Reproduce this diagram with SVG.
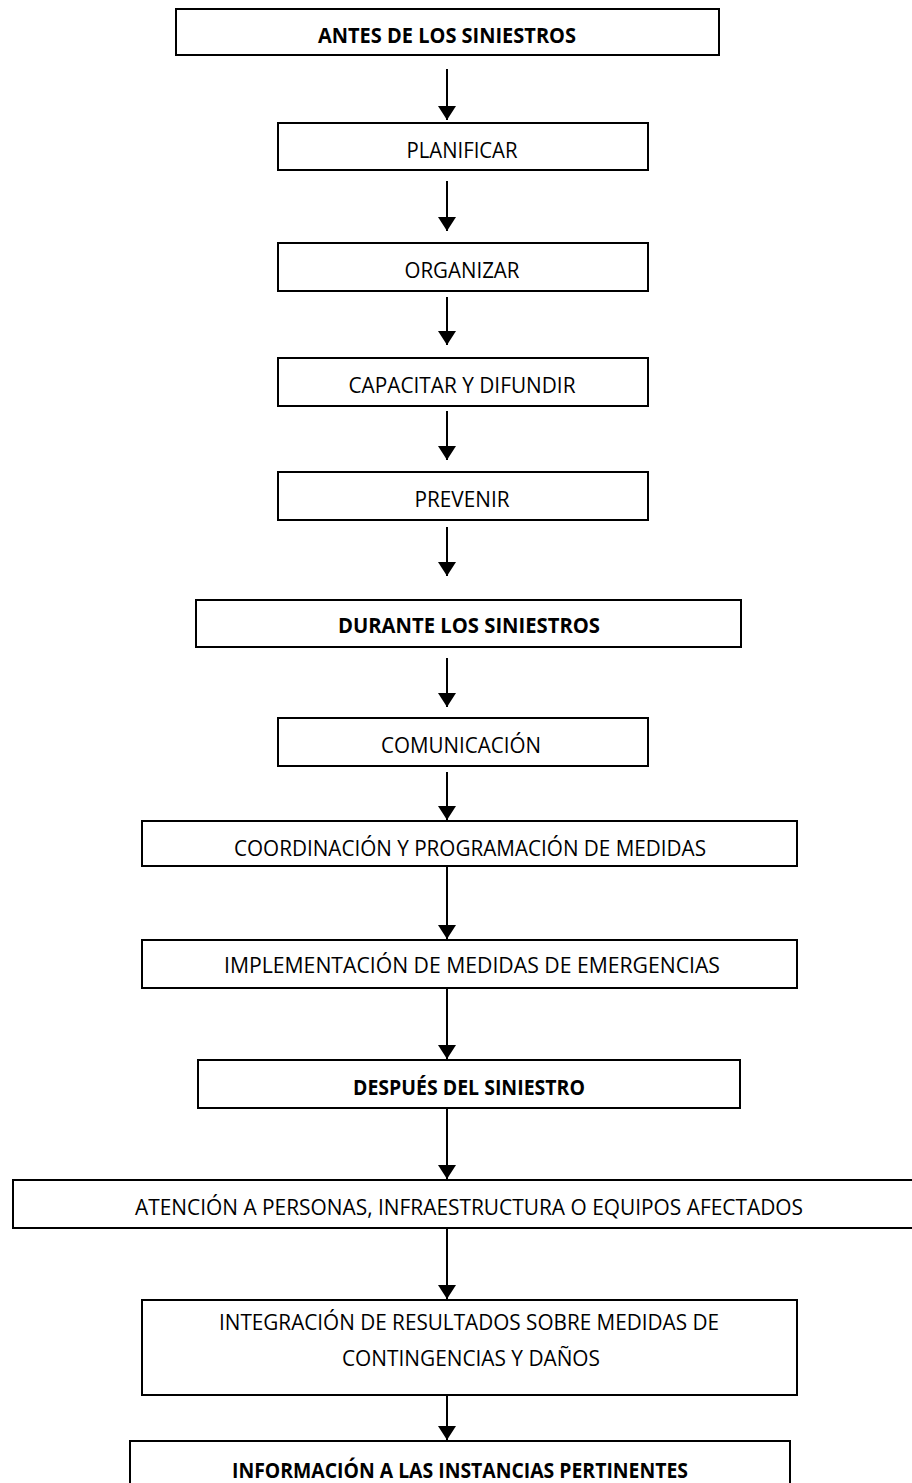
<svg xmlns="http://www.w3.org/2000/svg" width="912" height="1483" viewBox="0 0 912 1483">
  <style>
    .box { fill: #ffffff; stroke: #000000; stroke-width: 2; }
    .lbl { font-family: "Open Sans", "Liberation Sans", sans-serif; font-size: 22px; fill: #000000; text-anchor: middle; }
    .hd { font-weight: bold; }
    .conn { stroke: #000000; stroke-width: 2; fill: none; marker-end: url(#arrow); }
  </style>
  <defs>
    <marker id="arrow" viewBox="0 0 14 18" refX="14" refY="9" markerWidth="14" markerHeight="18" markerUnits="userSpaceOnUse" orient="auto">
      <path d="M0,0 L14,9 L0,18 Z" fill="#000000"/>
    </marker>
  </defs>
  <rect x="0" y="0" width="912" height="1483" fill="#ffffff"/>

  <!-- connectors -->
  <g id="connectors">
    <line class="conn" x1="447" y1="69" x2="447" y2="120"/>
    <line class="conn" x1="447" y1="181" x2="447" y2="231"/>
    <line class="conn" x1="447" y1="297" x2="447" y2="345"/>
    <line class="conn" x1="447" y1="411" x2="447" y2="460"/>
    <line class="conn" x1="447" y1="527" x2="447" y2="576"/>
    <line class="conn" x1="447" y1="658" x2="447" y2="707"/>
    <line class="conn" x1="447" y1="772" x2="447" y2="820"/>
    <line class="conn" x1="447" y1="867" x2="447" y2="939"/>
    <line class="conn" x1="447" y1="989" x2="447" y2="1059"/>
    <line class="conn" x1="447" y1="1109" x2="447" y2="1179"/>
    <line class="conn" x1="447" y1="1229" x2="447" y2="1299"/>
    <line class="conn" x1="447" y1="1396" x2="447" y2="1440"/>
  </g>

  <!-- before -->
  <g id="antes">
    <rect class="box" x="176" y="9" width="543" height="46"/>
    <text class="lbl hd" x="447" y="43" textLength="258" lengthAdjust="spacingAndGlyphs">ANTES DE LOS SINIESTROS</text>
  </g>
  <g id="planificar">
    <rect class="box" x="278" y="123" width="370" height="47"/>
    <text class="lbl" x="462" y="158" textLength="111" lengthAdjust="spacingAndGlyphs">PLANIFICAR</text>
  </g>
  <g id="organizar">
    <rect class="box" x="278" y="243" width="370" height="48"/>
    <text class="lbl" x="462" y="278" textLength="115" lengthAdjust="spacingAndGlyphs">ORGANIZAR</text>
  </g>
  <g id="capacitar">
    <rect class="box" x="278" y="358" width="370" height="48"/>
    <text class="lbl" x="462" y="393" textLength="227" lengthAdjust="spacingAndGlyphs">CAPACITAR Y DIFUNDIR</text>
  </g>
  <g id="prevenir">
    <rect class="box" x="278" y="472" width="370" height="48"/>
    <text class="lbl" x="462" y="507" textLength="95" lengthAdjust="spacingAndGlyphs">PREVENIR</text>
  </g>

  <!-- during -->
  <g id="durante">
    <rect class="box" x="196" y="600" width="545" height="47"/>
    <text class="lbl hd" x="469" y="633" textLength="262" lengthAdjust="spacingAndGlyphs">DURANTE LOS SINIESTROS</text>
  </g>
  <g id="comunicacion">
    <rect class="box" x="278" y="718" width="370" height="48"/>
    <text class="lbl" x="461" y="753" textLength="160" lengthAdjust="spacingAndGlyphs">COMUNICACIÓN</text>
  </g>
  <g id="coordinacion">
    <rect class="box" x="142" y="821" width="655" height="45"/>
    <text class="lbl" x="470" y="856" textLength="472" lengthAdjust="spacingAndGlyphs">COORDINACIÓN Y PROGRAMACIÓN DE MEDIDAS</text>
  </g>
  <g id="implementacion">
    <rect class="box" x="142" y="940" width="655" height="48"/>
    <text class="lbl" x="472" y="973" textLength="496" lengthAdjust="spacingAndGlyphs">IMPLEMENTACIÓN DE MEDIDAS DE EMERGENCIAS</text>
  </g>

  <!-- after -->
  <g id="despues">
    <rect class="box" x="198" y="1060" width="542" height="48"/>
    <text class="lbl hd" x="469" y="1095" textLength="232" lengthAdjust="spacingAndGlyphs">DESPUÉS DEL SINIESTRO</text>
  </g>
  <g id="atencion">
    <rect class="box" x="13" y="1180" width="912" height="48"/>
    <text class="lbl" x="469" y="1215" textLength="668" lengthAdjust="spacingAndGlyphs">ATENCIÓN A PERSONAS, INFRAESTRUCTURA O EQUIPOS AFECTADOS</text>
  </g>
  <g id="integracion">
    <rect class="box" x="142" y="1300" width="655" height="95"/>
    <text class="lbl" x="469" y="1330" textLength="500" lengthAdjust="spacingAndGlyphs">INTEGRACIÓN DE RESULTADOS SOBRE MEDIDAS DE</text>
    <text class="lbl" x="471" y="1366" textLength="258" lengthAdjust="spacingAndGlyphs">CONTINGENCIAS Y DAÑOS</text>
  </g>
  <g id="informacion">
    <rect class="box" x="130" y="1441" width="660" height="60"/>
    <text class="lbl hd" x="460" y="1478" textLength="456" lengthAdjust="spacingAndGlyphs">INFORMACIÓN A LAS INSTANCIAS PERTINENTES</text>
  </g>
</svg>
